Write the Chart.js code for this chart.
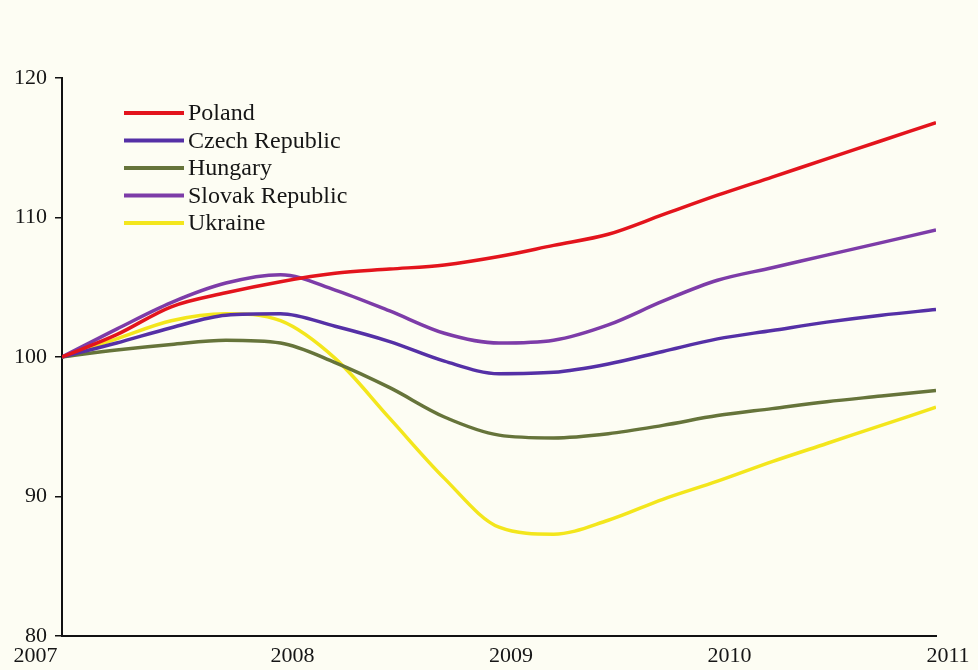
<!DOCTYPE html>
<html lang="en">
<head>
    <meta charset="UTF-8">
    <meta name="viewport" content="width=device-width, initial-scale=1.0">
    <title>Index, 2007 = 100</title>
    <script src="https://cdn.jsdelivr.net/npm/chart.js"></script>
    <style>
        html, body { margin: 0; padding: 0; background: #fdfdf3; }
        #wrap { width: 978px; height: 670px; }
    </style>
</head>

<body>
    <div id="wrap"><canvas id="indexChart"></canvas></div>

    <script>
// Données (pas trimestriel)
const quarters = [2007, 2007.25, 2007.5, 2007.75, 2008, 2008.25, 2008.5, 2008.75, 2009,
                  2009.25, 2009.5, 2009.75, 2010, 2010.25, 2010.5, 2010.75, 2011];
const yearTicks = [2007, 2008, 2009, 2010, 2011];

const poland  = [100, 101.6, 103.6, 104.6, 105.4, 106.0, 106.3, 106.6, 107.2,
                 108.0, 108.8, 110.2, 111.6, 112.9, 114.2, 115.5, 116.8];
const czech   = [100, 101.0, 102.1, 103.0, 103.1, 102.2, 101.1, 99.7, 98.8,
                 98.9, 99.5, 100.4, 101.3, 101.9, 102.5, 103.0, 103.4];
const hungary = [100, 100.5, 100.9, 101.2, 101.0, 99.6, 97.8, 95.7, 94.4,
                 94.2, 94.5, 95.1, 95.8, 96.3, 96.8, 97.2, 97.6];
const slovak  = [100, 102.0, 103.9, 105.3, 105.9, 104.8, 103.3, 101.7, 101.0,
                 101.2, 102.3, 104.0, 105.5, 106.4, 107.3, 108.2, 109.1];
const ukraine = [100, 101.3, 102.6, 103.1, 102.6, 99.9, 95.6, 91.3, 87.8,
                 87.3, 88.3, 89.8, 91.1, 92.5, 93.8, 95.1, 96.4];

function points(values) {
    return values.map((v, i) => ({ x: quarters[i], y: v }));
}

function serie(label, values, color) {
    return {
        label: label,
        data: points(values),
        borderColor: color,
        borderWidth: 3.5,
        pointRadius: 0,
        cubicInterpolationMode: 'monotone',
        fill: false
    };
}

// Légende dessinée à l'intérieur de la zone du graphique
const legendInside = {
    id: 'legendInside',
    afterDatasetsDraw(chart) {
        const ctx = chart.ctx;
        ctx.save();
        ctx.font = '24px "Liberation Serif", serif';
        ctx.textBaseline = 'middle';
        chart.data.datasets.forEach((ds, i) => {
            const y = 113 + i * 27.5;
            ctx.strokeStyle = ds.borderColor;
            ctx.lineWidth = 4;
            ctx.beginPath();
            ctx.moveTo(124, y);
            ctx.lineTo(184, y);
            ctx.stroke();
            ctx.fillStyle = '#161616';
            ctx.fillText(ds.label, 188, y + 1);
        });
        ctx.restore();
    }
};

Chart.defaults.font.family = '"Liberation Serif", serif';
Chart.defaults.color = '#161616';

var ctx = document.getElementById('indexChart').getContext('2d');
var indexChart = new Chart(ctx, {
    type: 'line',
    data: {
        datasets: [
            serie('Poland', poland, '#e3141c'),
            serie('Czech Republic', czech, '#5530a6'),
            serie('Hungary', hungary, '#66743a'),
            serie('Slovak Republic', slovak, '#7d3ca8'),
            serie('Ukraine', ukraine, '#f3e61c')
        ]
    },
    options: {
        responsive: true,
        maintainAspectRatio: false,
        animation: false,
        layout: { padding: { top: 78, right: 42, left: 0, bottom: 0 } },
        plugins: {
            legend: { display: false },
            tooltip: { enabled: false }
        },
        scales: {
            x: {
                type: 'linear',
                min: 2007,
                max: 2011,
                afterBuildTicks(scale) {
                    scale.ticks = yearTicks.map(v => ({ value: v }));
                },
                afterFit(scale) {
                    scale.height = 34;
                    scale.paddingLeft = 0;
                    scale.paddingRight = 0;
                },
                grid: { display: false, drawTicks: false },
                border: { display: true, color: '#111', width: 2 },
                ticks: {
                    font: { size: 22 },
                    padding: 7,
                    labelOffset: 12,
                    maxRotation: 0,
                    // le premier libellé est décalé vers la gauche sur l'original
                    callback: v => v === 2007 ? '2007' + '\u2007'.repeat(7) : String(v)
                }
            },
            y: {
                min: 80,
                max: 120,
                afterFit(scale) { scale.width = 62; },
                grid: {
                    display: true,
                    drawOnChartArea: false,
                    drawTicks: true,
                    tickLength: 7,
                    color: '#111',
                    lineWidth: 1.5
                },
                border: { display: true, color: '#111', width: 2 },
                ticks: {
                    stepSize: 10,
                    font: { size: 22 },
                    padding: 8
                }
            }
        }
    },
    plugins: [legendInside]
});
    </script>
</body>

</html>
